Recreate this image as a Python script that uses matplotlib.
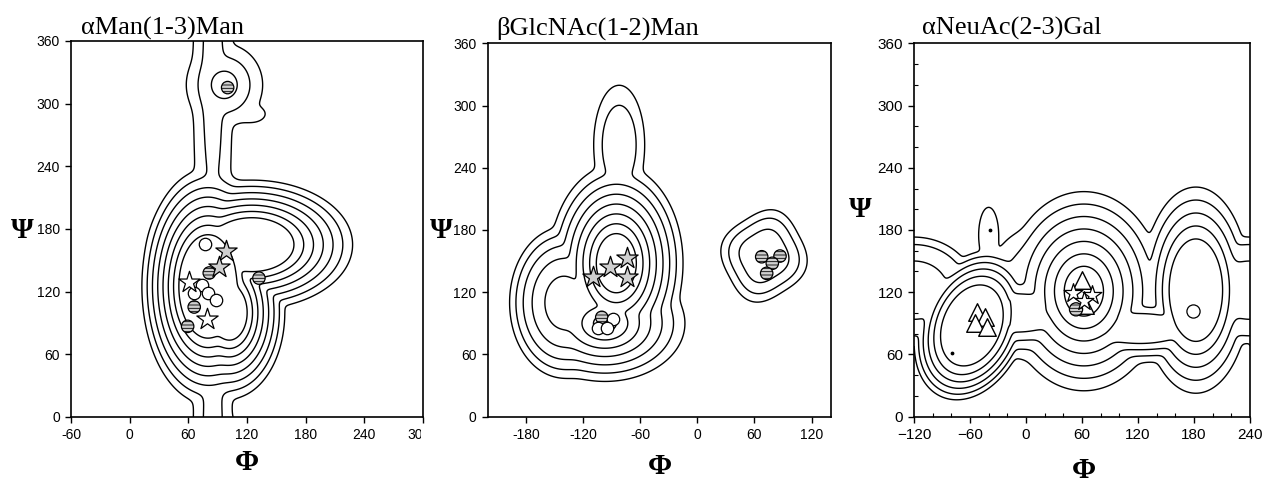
import numpy as np
import matplotlib
matplotlib.use("Agg")
import matplotlib.pyplot as plt
from matplotlib.ticker import MultipleLocator
from matplotlib.transforms import Bbox, offset_copy

# ---------------- data ----------------
titles = ["\u03b1Man(1-3)Man", "\u03b2GlcNAc(1-2)Man", "\u03b1NeuAc(2-3)Gal"]
phi_min = [-60, -220, -120]
phi_ticks = [[-60, 0, 60, 120, 180, 240, 300],
             [-180, -120, -60, 0, 60, 120],
             [-120, -60, 0, 60, 120, 180, 240]]
phi_ticklabels = [["-60", "0", "60", "120", "180", "240", "300"],
                  ["-180", "-120", "-60", "0", "60", "120"],
                  ["\u2212120", "\u221260", "0", "60", "120", "180", "240"]]
psi_ticks = [0, 60, 120, 180, 240, 300, 360]
n_levels = [8, 8, 7]

# energy-basin components: centre, half-widths, rotation, floor, flat radius, profile power, norm
p1_cx = [80, 102, 125, 85, 97, 125]
p1_cy = [125, 100, 165, 330, 318, 290]
p1_ax = [5.4, 5.5, 10, 17.3, 13, 14]
p1_ay = [9.0, 8, 6, 200, 13, 8]
p1_rot = [0, 0, 0, 0, 0, 0]
p1_off = [-4.5, -2.3, 1.7, 6.67, 5, 7.05]
p1_flat = [0, 0, 4, 0, 0, 0]
p1_pow = [1, 1, 1, 2, 1, 1]
p1_q = [2, 2, 2, 2, 2, 2]

p2_cx = [-85, -97, -140, -82, 70]
p2_cy = [148, 90, 110, 262, 155]
p2_ax = [7, 12, 26.7, 20, 24]
p2_ay = [9.5, 8, 34, 43, 23]
p2_rot = [0, 0, 0, 0, 30]
p2_off = [-2, 1, 3.44, 6.21, 5.0]
p2_flat = [0, 0, 0, 0, 0]
p2_pow = [1, 1, 2, 2, 2]
p2_q = [2, 2, 2, 2, 3]

p3_cx = [-58, 62, 182, -120, 0, -40, 122, -10]
p3_cy = [88, 121, 122, 122, 118, 175, 85, 100]
p3_ax = [15, 10.5, 7.25, 54, 40, 12, 20, 20]
p3_ay = [11, 12, 12.5, 42, 57, 30, 6, 8]
p3_rot = [60, 0, 0, 0, 0, 0, 0, 0]
p3_off = [1.05, -1, 2.05, 4.8, 5.8, 6.2, 3.6, 3.2]
p3_flat = [1.8, 0, 3, 0, 0, 0, 2, 1.5]
p3_pow = [1.5, 1, 1, 4, 4, 2, 1, 1]
p3_q = [2, 2, 2, 2, 2, 2, 2, 2]

# conformations (markers)
p1_circ_phi = [77, 81.4, 73.6, 66, 80.3, 88.2, 66, 59.3, 132.2, 100.2]
p1_circ_psi = [166, 137.9, 126, 118.7, 118.7, 111.7, 105.3, 86.8, 133, 315.4]
p1_circ_shade = [0, 1, 0, 0, 0, 0, 1, 1, 1, 1]
p1_star_phi = [98.4, 91.6, 61, 78.7]
p1_star_psi = [159.2, 143.6, 129.6, 94.2]
p1_star_shade = [1, 1, 0, 0]

p2_circ_phi = [-100.3, -88.8, -103.9, -95.1, 67.6, 86.8, 78.7, 72.8]
p2_circ_psi = [95.8, 93.9, 85.2, 85.2, 154.2, 154.9, 147.9, 138.2]
p2_circ_shade = [1, 0, 0, 0, 1, 1, 1, 1]
p2_star_phi = [-73.5, -91.6, -109.2, -73.5]
p2_star_psi = [152.7, 144.6, 135, 135]
p2_star_shade = [1, 1, 1, 1]

p3_tri_phi = [-52.2, -43.9, -54.6, -41.5, 59.7, 63.2]
p3_tri_psi = [101.2, 96.4, 90, 86.8, 131.8, 107.7]
p3_star_phi = [50.7, 70.4, 62]
p3_star_psi = [119, 117.3, 112]
p3_circ_phi = [53.6, 179.2]
p3_circ_psi = [103.5, 101.9]
p3_circ_shade = [1, 0]
p3_dot_phi = [-38.6, -79.6]
p3_dot_psi = [180, 61.7]

comps = [
    (p1_cx, p1_cy, p1_ax, p1_ay, p1_rot, p1_off, p1_flat, p1_pow, p1_q),
    (p2_cx, p2_cy, p2_ax, p2_ay, p2_rot, p2_off, p2_flat, p2_pow, p2_q),
    (p3_cx, p3_cy, p3_ax, p3_ay, p3_rot, p3_off, p3_flat, p3_pow, p3_q),
]


def energy(X, Y, cx, cy, axx, ayy, rot, off, flat, pw, qn, k=0.3):
    terms = []
    for i in range(len(cx)):
        dx = (X - cx[i] + 180) % 360 - 180
        dy = (Y - cy[i] + 180) % 360 - 180
        t = np.deg2rad(rot[i])
        u = dx * np.cos(t) + dy * np.sin(t)
        v = -dx * np.sin(t) + dy * np.cos(t)
        d = (np.abs(u / axx[i]) ** qn[i] + np.abs(v / ayy[i]) ** qn[i]) ** (1.0 / qn[i])
        d = np.maximum(d - flat[i], 0.0)
        terms.append(off[i] + d ** pw[i])
    T = np.array(terms)
    m = T.min(axis=0)
    return m - k * np.log(np.exp(-(T - m) / k).sum(axis=0))


plt.rcParams['hatch.color'] = '#666666'
plt.rcParams['hatch.linewidth'] = 0.6

fig = plt.figure(figsize=(12.64, 4.83), dpi=100)
W, H = 1264.0, 483.0
boxes = [(71, 41, 423, 417), (487.7, 43.3, 830.7, 416.7), (914, 43.3, 1250, 416.7)]
title_pos = [(81, 35), (496, 35), (922, 35)]
psi_lab_pos = [(22, 231), (441, 231), (860, 210)]
phi_lab_pos = [(247, 463), (660, 467), (1084, 470)]
tick_fs = [10, 10, 11]
TICK_LEN, TICK_PAD = 4, 4

SHADE = '#cfcfcf'

for p in range(3):
    l, t, r, b = boxes[p]
    ax = fig.add_axes([l / W, 1 - b / H, (r - l) / W, (b - t) / H])
    x = np.arange(phi_min[p], phi_min[p] + 360.5, 1.0)
    y = np.arange(0, 360.5, 1.0)
    X, Y = np.meshgrid(x, y)
    E = energy(X, Y, *comps[p])
    ax.contour(X, Y, E, levels=np.arange(1, n_levels[p] + 1), colors='black',
               linewidths=1.0)
    ax.set_xlim(phi_min[p], phi_min[p] + 360)
    ax.set_ylim(0, 360)
    ax.set_xticks(phi_ticks[p])
    labels = list(phi_ticklabels[p])
    clipped = None
    if p == 0:
        # the last label is cut off by the neighbouring panel in the original
        clipped = labels[-1]
        labels[-1] = ""
    ax.set_xticklabels(labels)
    ax.set_yticks(psi_ticks)
    for s in ax.spines.values():
        s.set_linewidth(1.2)
    ax.tick_params(direction='out', length=TICK_LEN, width=1.0, labelsize=tick_fs[p],
                   pad=TICK_PAD)
    if p == 2:
        ax.xaxis.set_minor_locator(MultipleLocator(20))
        ax.yaxis.set_minor_locator(MultipleLocator(20))
        ax.tick_params(which='minor', direction='in', length=3, width=0.8)
    for lab in ax.get_xticklabels() + ax.get_yticklabels():
        lab.set_family(['Liberation Sans', 'DejaVu Sans'])
    if clipped is not None:
        tr = offset_copy(ax.get_xaxis_transform(), fig=fig, x=-3,
                         y=-(TICK_LEN + TICK_PAD), units='points')
        txt = ax.text(phi_ticks[p][-1], 0, clipped, transform=tr,
                      ha='center', va='top', fontsize=tick_fs[p],
                      family=['Liberation Sans', 'DejaVu Sans'])
        txt.set_clip_box(Bbox([[0, 0], [421, H]]))
        txt.set_clip_on(True)

    def circles(ph, ps, sh, size=80):
        for a, b_, s in zip(ph, ps, sh):
            ax.scatter([a], [b_], s=size, marker='o', facecolor=SHADE if s else 'white',
                       edgecolor='black', linewidth=0.9, hatch='-----' if s else None,
                       zorder=4)

    def stars(ph, ps, sh, size=260):
        for a, b_, s in zip(ph, ps, sh):
            ax.scatter([a], [b_], s=size, marker='*', facecolor=SHADE if s else 'white',
                       edgecolor='black', linewidth=0.9, zorder=5)

    if p == 0:
        circles(p1_circ_phi, p1_circ_psi, p1_circ_shade)
        stars(p1_star_phi, p1_star_psi, p1_star_shade)
    elif p == 1:
        circles(p2_circ_phi, p2_circ_psi, p2_circ_shade)
        stars(p2_star_phi, p2_star_psi, p2_star_shade)
    else:
        ax.scatter(p3_tri_phi, p3_tri_psi, s=160, marker='^', facecolor='white',
                   edgecolor='black', linewidth=1.0, zorder=4)
        stars(p3_star_phi, p3_star_psi, [0, 0, 0], size=200)
        circles(p3_circ_phi, p3_circ_psi, p3_circ_shade, size=90)
        ax.scatter(p3_dot_phi, p3_dot_psi, s=3, color='black', zorder=4)

    fig.text(title_pos[p][0] / W, 1 - title_pos[p][1] / H, titles[p],
             family=['Liberation Serif', 'DejaVu Serif'], fontsize=19,
             ha='left', va='baseline')
    fig.text(psi_lab_pos[p][0] / W, 1 - psi_lab_pos[p][1] / H, "\u03a8",
             family=['Liberation Serif', 'DejaVu Serif'], fontsize=21, fontweight='bold',
             ha='center', va='center')
    fig.text(phi_lab_pos[p][0] / W, 1 - phi_lab_pos[p][1] / H, "\u03a6",
             family=['Liberation Serif', 'DejaVu Serif'], fontsize=21, fontweight='bold',
             ha='center', va='center')

fig.savefig("out.png", dpi=100)
